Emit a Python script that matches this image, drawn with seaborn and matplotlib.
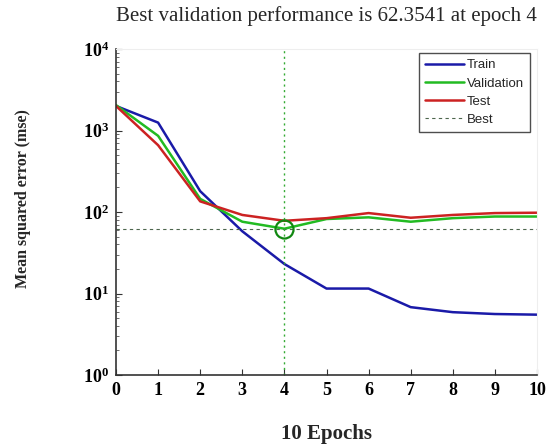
import numpy as np
import pandas as pd
import matplotlib
matplotlib.use("Agg")
import matplotlib.pyplot as plt
import seaborn as sns
from matplotlib.ticker import FixedLocator, FuncFormatter, LogLocator, NullFormatter
from matplotlib.lines import Line2D

epochs = [0, 1, 2, 3, 4, 5, 6, 7, 8, 9, 10]
train = [2000, 1250, 180, 58, 23, 11.5, 11.5, 6.8, 5.9, 5.6, 5.5]
validation = [2050, 860, 145, 76, 62.3541, 82, 86, 76, 84, 88, 88]
test = [2000, 660, 135, 92, 78, 84, 97, 85, 92, 97, 98]
best_epoch = 4
best_value = 62.3541
title = "Best validation performance is 62.3541 at epoch 4"
xlabel = "10 Epochs"
ylabel = "Mean squared error (mse)"
series_names = ["Train", "Validation", "Test"]
colors = ["#1a1aa8", "#22bb22", "#cc2222"]

sns.set_theme(style="white")
plt.rcParams['font.family'] = ['Liberation Serif', 'DejaVu Sans']
plt.rcParams['mathtext.fontset'] = 'custom'
plt.rcParams['mathtext.rm'] = 'Liberation Serif:bold'
plt.rcParams['mathtext.bf'] = 'Liberation Serif:bold'
plt.rcParams['mathtext.it'] = 'Liberation Serif:bold'

df = pd.DataFrame({
    "epoch": epochs * 3,
    "mse": train + validation + test,
    "series": sum([[n] * len(epochs) for n in series_names], []),
})

fig = plt.figure(figsize=(5.5, 4.46), dpi=100)
ax = fig.add_axes([116/550, 1 - 375/446, (537-116)/550, (375-49)/446])

sns.lineplot(data=df, x="epoch", y="mse", hue="series", palette=colors,
             hue_order=series_names, linewidth=1.8, ax=ax, legend=False)

ax.set_yscale("log")
ax.set_xlim(0, 10)
ax.set_ylim(1, 1e4)

ax.axhline(best_value, color="#4d664d", linestyle=(0, (3, 3)), linewidth=0.8)
ax.axvline(best_epoch, color="#33aa33", linestyle=(0, (1.5, 2.5)), linewidth=1.0)
ax.plot([best_epoch], [best_value], marker="o", markersize=13, markerfacecolor="none",
        markeredgecolor="#118811", markeredgewidth=1.6, linestyle="none")

ax.xaxis.set_major_locator(FixedLocator(epochs))
ax.set_xticklabels([str(e) for e in epochs], fontweight="bold", fontsize=13)
ax.yaxis.set_major_locator(FixedLocator([1, 10, 100, 1000, 10000]))
ax.yaxis.set_major_formatter(FuncFormatter(lambda v, p: r"$\mathbf{10^{%d}}$" % int(round(np.log10(v)))))
ax.yaxis.set_minor_locator(LogLocator(base=10, subs=np.arange(2, 10)))
ax.yaxis.set_minor_formatter(NullFormatter())
for lab in ax.get_yticklabels():
    lab.set_fontsize(13)

ax.tick_params(axis="both", which="major", direction="in", length=4, width=0.8,
               color="#333333", labelcolor="black", pad=5)
ax.tick_params(axis="y", which="minor", direction="in", length=2, width=0.6,
               color="#555555", left=True)
ax.tick_params(axis="x", bottom=True)
ax.tick_params(axis="y", left=True)

for s in ["left", "bottom"]:
    ax.spines[s].set_color("#333333")
    ax.spines[s].set_linewidth(1.2)
for s in ["top", "right"]:
    ax.spines[s].set_color("#eeeeee")
    ax.spines[s].set_linewidth(0.8)

ax.set_xlabel(xlabel, fontsize=15, fontweight="bold", labelpad=18)
ax.set_ylabel(ylabel, fontsize=11.5, fontweight="bold")
ax.yaxis.label.set_fontweight("bold")
ax.yaxis.set_label_coords(-0.221, 0.54)
ax.yaxis.label.set_verticalalignment("center")
ax.set_title(title, fontsize=15, pad=20, x=0.5)

handles = [Line2D([0], [0], color=c, lw=1.8) for c in colors]
handles.append(Line2D([0], [0], color="#4d664d", lw=0.8, linestyle=(0, (3, 3))))
leg = ax.legend(handles, series_names + ["Best"], loc="upper right",
                bbox_to_anchor=(0.99, 0.995), frameon=True, fancybox=False,
                prop={"family": "Liberation Sans", "size": 9.5}, handlelength=3.0,
                labelspacing=0.45, borderpad=0.45, handletextpad=0.2, borderaxespad=0.2)
leg.get_frame().set_edgecolor("#222222")
leg.get_frame().set_linewidth(1.0)

fig.savefig("out.png", dpi=100)
